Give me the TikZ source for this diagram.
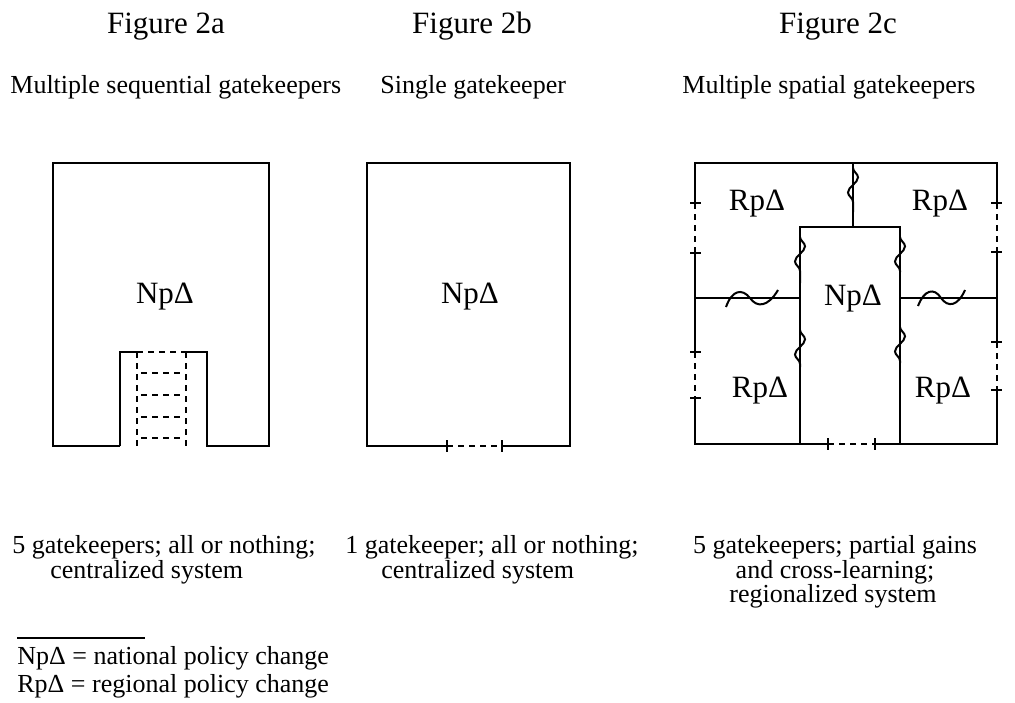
\documentclass[tikz,border=0pt]{standalone}
\usepackage{fontspec}
\setmainfont{Liberation Serif}
\usetikzlibrary{decorations.pathmorphing}
\tikzset{
  wall/.style={line width=1.1pt},
  gap/.style={line width=1.1pt, dash pattern=on 3pt off 2.5pt},
  wave/.style={line width=1pt, decorate, decoration={snake, amplitude=2.5pt, segment length=15pt}},
  hwave/.style={line width=1pt},
  figtitle/.style={font=\fontsize{15.5}{18}\selectfont, inner sep=0pt},
  small/.style={font=\fontsize{13}{15}\selectfont, inner sep=0pt},
  boxlabel/.style={font=\fontsize{15.5}{18}\selectfont},
}
\begin{document}
\begin{tikzpicture}[x=0.5pt,y=-0.5pt]
   \useasboundingbox (0,0) rectangle (1015,702);
   % Titles and subtitles
   \node[figtitle, anchor=base] (ta) at (166,33) {Figure 2a};
   \node[figtitle, anchor=base] (tb) at (472,33) {Figure 2b};
   \node[figtitle, anchor=base] (tc) at (838,33) {Figure 2c};
   \node[small, anchor=base west] (sa) at (10,93) {Multiple sequential gatekeepers};
   \node[small, anchor=base west] (sb) at (380,93) {Single gatekeeper};
   \node[small, anchor=base west] (sc) at (682,93) {Multiple spatial gatekeepers};
   % --- Figure 2a: one box, a ladder of gates at the bottom ---
   \draw[wall] (120,446) -- (53,446) -- (53,163) -- (269,163) -- (269,446) -- (207,446) -- (207,352) -- (186,352);
   \draw[wall] (120,446) -- (120,352) -- (137,352);
   \draw[gap] (137,352) -- (186,352);
   \foreach \x in {137,186}
      \draw[gap] (\x,352) -- (\x,446);
   \foreach \y in {373,395,417,438}
      \draw[gap] (141,\y) -- (183,\y);
   \node[boxlabel] (npa) at (165,297) {NpΔ};
   % --- Figure 2b: one box, one gate ---
   \draw[wall] (447,446) -- (367,446) -- (367,163) -- (570,163) -- (570,446) -- (502,446);
   \draw[gap] (447,446) -- (502,446);
   \foreach \x in {447,502}
      \draw[wall] (\x,440) -- (\x,452);
   \node[boxlabel] (npb) at (470,297) {NpΔ};
   % --- Figure 2c: national box among four regions ---
   \draw[wall] (695,203) -- (695,163) -- (997,163) -- (997,203);
   \draw[wall] (695,253) -- (695,352);
   \draw[wall] (695,398) -- (695,444) -- (828,444);
   \draw[wall] (997,252) -- (997,342);
   \draw[wall] (997,390) -- (997,444) -- (875,444);
   \draw[gap] (695,203) -- (695,253);
   \draw[gap] (695,352) -- (695,398);
   \draw[gap] (997,203) -- (997,252);
   \draw[gap] (997,342) -- (997,390);
   \draw[gap] (828,444) -- (875,444);
   \foreach \y in {203,253,352,398}
      \draw[wall] (690,\y) -- (701,\y);
   \foreach \y in {203,252,342,390}
      \draw[wall] (991,\y) -- (1002,\y);
   \foreach \x in {828,875}
      \draw[wall] (\x,438) -- (\x,450);
   % central box and the region borders
   \draw[wall] (800,444) -- (800,227) -- (900,227) -- (900,444);
   \draw[wall] (853,163) -- (853,227);
   \draw[wall] (695,298) -- (800,298);
   \draw[wall] (900,298) -- (997,298);
   % cross-learning marks
   \draw[wave] (853,168) -- (853,212);
   \draw[wave] (800,237) -- (800,283);
   \draw[wave] (800,330) -- (800,367);
   \draw[wave] (900,237) -- (900,272);
   \draw[wave] (900,327) -- (900,363);
   \draw[hwave] (726,307) .. controls (732,290) and (742,288) .. (750,298) .. controls (757,308) and (768,307) .. (778,290);
   \draw[hwave] (918,306) .. controls (924,290) and (934,287) .. (941,298) .. controls (948,308) and (958,306) .. (965,290);
   \node[boxlabel] (rtl) at (757,204) {RpΔ};
   \node[boxlabel] (rtr) at (940,204) {RpΔ};
   \node[boxlabel] (npc) at (853,299) {NpΔ};
   \node[boxlabel] (rbl) at (760,391) {RpΔ};
   \node[boxlabel] (rbr) at (943,391) {RpΔ};
   % Captions
   \node[small, anchor=base west] (ca1) at (12,553) {5 gatekeepers; all or nothing;};
   \node[small, anchor=base west] (ca2) at (50,578) {centralized system};
   \node[small, anchor=base west] (cb1) at (345,553) {1 gatekeeper; all or nothing;};
   \node[small, anchor=base west] (cb2) at (381,578) {centralized system};
   \node[small, anchor=base] (cc1) at (835,553) {5 gatekeepers; partial gains};
   \node[small, anchor=base] (cc2) at (835,578) {and cross-learning;};
   \node[small, anchor=base] (cc3) at (833,602) {regionalized system};
   % Legend
   \draw[line width=0.8pt] (17,638) -- (145,638);
   \node[small, anchor=base west] (legn) at (17,664) {NpΔ = national policy change};
   \node[small, anchor=base west] (legr) at (17,692) {RpΔ = regional policy change};
\end{tikzpicture}
\end{document}
